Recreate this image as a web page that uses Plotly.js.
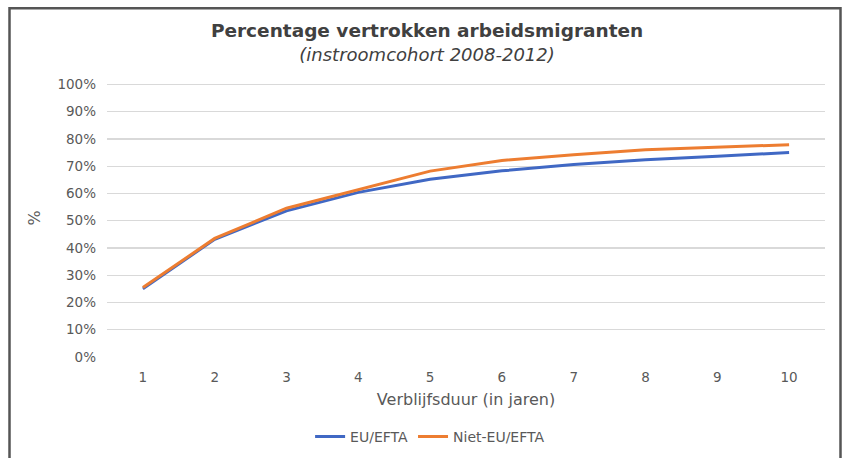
<!DOCTYPE html>
<html>
<head>
<meta charset="utf-8">
<script src="https://cdn.plot.ly/plotly-3.0.1.min.js"></script>
<style>html,body{margin:0;padding:0;background:#fff;}#chart{width:844px;height:458px;}</style>
</head>
<body>
<div id="chart"></div>
<script>
const years = [1, 2, 3, 4, 5, 6, 7, 8, 9, 10];
const euEfta = [25.0, 43.2, 53.6, 60.4, 65.2, 68.3, 70.6, 72.4, 73.7, 75.0];
const nietEuEfta = [25.5, 43.5, 54.6, 61.3, 68.2, 72.1, 74.2, 76.0, 77.0, 77.9];
const yTicks = [0, 10, 20, 30, 40, 50, 60, 70, 80, 90, 100];
const yTickLabels = yTicks.map(v => v + '%');

const L = 107, R = 825, T = 78.5, B = 357;
const px = x => (x - L) / (R - L);
const py = y => (B - y) / (B - T);
const frame = '#555555';
const font = 'DejaVu Sans, Verdana, sans-serif';

const traces = [
  {x: years, y: euEfta, name: 'EU/EFTA', type: 'scatter', mode: 'lines',
   line: {color: '#4068C4', width: 3}},
  {x: years, y: nietEuEfta, name: 'Niet-EU/EFTA', type: 'scatter', mode: 'lines',
   line: {color: '#ED7D31', width: 3}}
];

const layout = {
  width: 844, height: 458,
  margin: {l: L, r: 844 - R, t: T, b: 458 - B, autoexpand: false},
  paper_bgcolor: '#ffffff', plot_bgcolor: '#ffffff',
  font: {family: font, color: '#595959', size: 13},
  title: {
    text: '<b>Percentage vertrokken arbeidsmigranten</b><br><span style="font-size:18px;color:#404040"><i>(instroomcohort 2008-2012)</i></span>',
    font: {family: font, size: 18.5, color: '#404040'},
    x: 0.506, xanchor: 'center', y: 0.92, yanchor: 'top'
  },
  xaxis: {
    range: [0.5, 10.5], tickvals: years, ticktext: years.map(String),
    showgrid: false, zeroline: false, showline: false, ticks: '',
    tickfont: {size: 13.5, color: '#595959'}, ticklabelstandoff: 10,
    title: {text: 'Verblijfsduur (in jaren)', font: {size: 16, color: '#595959'}, standoff: 10}
  },
  yaxis: {
    range: [0, 102], tickvals: yTicks, ticktext: yTickLabels,
    showgrid: true, gridcolor: '#d9d9d9', gridwidth: 1.3, zeroline: false,
    ticks: '', showline: false,
    tickfont: {size: 13.5, color: '#595959'}, ticklabelstandoff: 10,
    title: {text: '%', font: {size: 16, color: '#595959'}, standoff: 12}
  },
  showlegend: true,
  legend: {orientation: 'h', x: 0.45, xanchor: 'center', y: py(437), yanchor: 'middle',
           font: {size: 14, color: '#595959'}, itemwidth: 30, tracegroupgap: 0},
  shapes: [
    {type: 'path', xref: 'paper', yref: 'paper',
     path: `M ${px(9.5)} ${py(470)} L ${px(9.5)} ${py(7.5)} L ${px(840.5)} ${py(7.5)} L ${px(840.5)} ${py(470)}`,
     line: {color: frame, width: 2.5}}
  ]
};

Plotly.newPlot('chart', traces, layout, {displayModeBar: false, staticPlot: true});
</script>
</body>
</html>
